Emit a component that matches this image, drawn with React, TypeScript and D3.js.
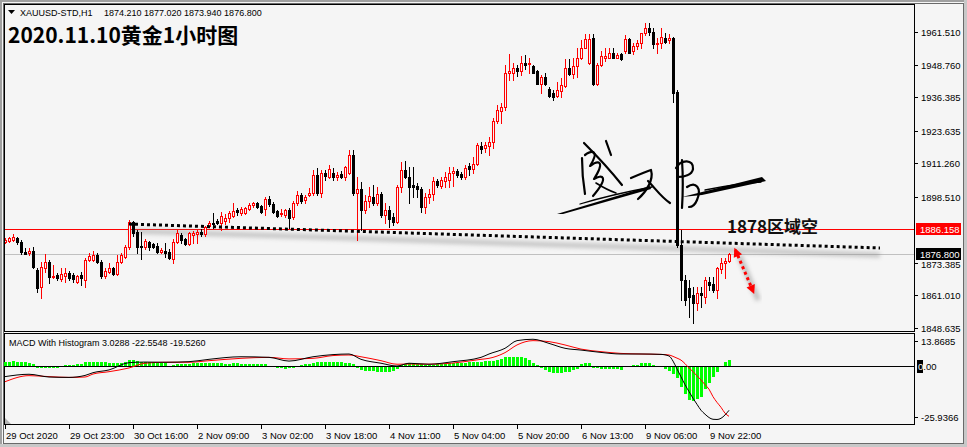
import React from "react";
import * as d3 from "d3";

const W = 967;
const H = 447;

// ---------- DATA ----------
const opens = [
  1881.3, 1881.7, 1882.1, 1882.9, 1881.3, 1877.5, 1877.2, 1877.9, 1870.7, 1864.2,
  1871.5, 1873.7, 1868.0, 1868.8, 1867.3, 1868.4, 1869.6, 1868.8, 1866.1, 1868.8,
  1866.9, 1874.5, 1874.5, 1876.4, 1873.7, 1868.4, 1869.9, 1871.5, 1869.2, 1873.7,
  1875.6, 1879.4, 1888.9, 1885.1, 1879.8, 1879.4, 1881.3, 1880.6, 1879.8, 1877.5,
  1877.9, 1877.5, 1874.9, 1881.3, 1884.0, 1882.5, 1880.6, 1884.0, 1884.4, 1885.1,
  1884.4, 1887.4, 1888.6, 1889.3, 1888.6, 1889.3, 1890.5, 1891.2, 1893.5, 1892.4,
  1892.4, 1893.9, 1895.4, 1896.2, 1895.0, 1893.9, 1897.7, 1895.8, 1893.1, 1892.0,
  1891.6, 1893.5, 1890.8, 1896.2, 1899.2, 1897.3, 1899.2, 1900.0, 1906.8, 1900.0,
  1907.6, 1906.0, 1907.6, 1906.0, 1907.2, 1906.0, 1907.6, 1914.4, 1900.0, 1901.5,
  1893.5, 1896.9, 1898.4, 1896.2, 1899.6, 1891.6, 1893.5, 1890.8, 1888.9, 1902.2,
  1908.7, 1906.0, 1903.0, 1902.6, 1901.5, 1894.6, 1898.4, 1899.6, 1904.5, 1902.6,
  1904.5, 1904.9, 1907.6, 1908.3, 1907.2, 1906.0, 1910.2, 1909.1, 1911.0, 1917.8,
  1917.1, 1917.8, 1919.3, 1927.3, 1931.1, 1932.6, 1945.6, 1945.9, 1947.5, 1946.3,
  1949.7, 1949.0, 1948.2, 1946.3, 1941.7, 1944.0, 1939.5, 1938.0, 1936.8, 1938.7,
  1940.6, 1947.8, 1945.2, 1948.2, 1951.3, 1955.4, 1949.4, 1958.9, 1941.7, 1948.6,
  1951.6, 1951.6, 1953.5, 1951.6, 1952.8, 1953.9, 1958.5, 1953.9, 1955.8, 1957.3,
  1960.8, 1962.7, 1961.5, 1956.6, 1957.0, 1959.2, 1958.1, 1958.9, 1938.3, 1880.2,
  1866.9, 1863.9, 1861.2, 1858.2, 1862.0, 1860.4, 1866.1, 1865.4, 1863.1, 1871.1,
  1873.4, 1874.21,
];
const highs = [
  1882.9, 1883.2, 1884.4, 1883.2, 1882.1, 1879.1, 1879.1, 1879.4, 1871.5, 1873.7,
  1876.8, 1874.5, 1872.6, 1869.6, 1871.5, 1871.5, 1870.3, 1869.6, 1868.8, 1869.9,
  1875.3, 1877.2, 1877.9, 1877.2, 1874.5, 1871.5, 1873.4, 1871.8, 1876.4, 1877.2,
  1880.2, 1889.7, 1889.3, 1885.9, 1885.1, 1882.5, 1881.7, 1881.0, 1881.0, 1879.1,
  1881.0, 1878.7, 1882.5, 1885.9, 1884.8, 1882.9, 1885.1, 1885.5, 1885.9, 1886.3,
  1887.4, 1889.3, 1892.4, 1890.1, 1892.7, 1892.0, 1893.1, 1896.2, 1894.3, 1894.6,
  1894.6, 1896.2, 1896.5, 1896.5, 1895.4, 1898.4, 1898.8, 1896.5, 1893.5, 1893.9,
  1893.9, 1894.3, 1896.9, 1900.7, 1900.0, 1899.2, 1901.9, 1908.7, 1909.5, 1908.7,
  1908.7, 1910.6, 1909.5, 1907.9, 1908.3, 1910.2, 1916.3, 1916.3, 1906.0, 1904.1,
  1899.2, 1902.2, 1903.0, 1902.2, 1900.3, 1896.2, 1895.0, 1892.4, 1903.0, 1911.7,
  1912.1, 1909.8, 1909.8, 1903.8, 1902.2, 1900.0, 1901.5, 1906.0, 1905.3, 1906.0,
  1907.9, 1909.8, 1909.8, 1909.1, 1907.9, 1910.6, 1911.4, 1913.6, 1919.0, 1919.3,
  1919.3, 1921.2, 1928.5, 1933.4, 1934.2, 1948.6, 1952.8, 1949.4, 1948.6, 1952.0,
  1952.4, 1951.6, 1948.6, 1946.7, 1944.8, 1945.9, 1940.2, 1939.1, 1942.1, 1943.7,
  1950.9, 1950.9, 1951.6, 1955.1, 1958.1, 1960.4, 1960.4, 1960.4, 1949.4, 1953.9,
  1955.1, 1955.1, 1955.1, 1953.5, 1953.2, 1960.0, 1958.9, 1957.0, 1958.1, 1961.1,
  1964.6, 1964.9, 1962.7, 1959.2, 1963.0, 1961.1, 1960.4, 1959.6, 1939.1, 1885.9,
  1868.8, 1866.9, 1864.2, 1864.2, 1864.2, 1868.0, 1868.0, 1868.0, 1871.8, 1875.3,
  1875.3, 1877.02,
];
const lows = [
  1881.0, 1881.3, 1881.7, 1880.6, 1876.8, 1876.8, 1876.4, 1871.5, 1862.3, 1860.1,
  1869.9, 1865.8, 1867.7, 1866.9, 1866.5, 1866.1, 1866.9, 1866.1, 1865.8, 1865.0,
  1864.2, 1874.1, 1874.1, 1873.4, 1867.7, 1867.7, 1869.6, 1868.8, 1868.8, 1873.4,
  1875.3, 1878.7, 1883.6, 1877.2, 1874.9, 1878.7, 1878.3, 1879.1, 1877.2, 1877.2,
  1875.6, 1874.9, 1873.4, 1881.0, 1881.0, 1880.2, 1880.2, 1881.0, 1881.0, 1883.6,
  1883.6, 1887.0, 1886.7, 1888.2, 1885.9, 1888.2, 1888.9, 1890.8, 1891.6, 1891.6,
  1892.0, 1893.5, 1894.6, 1894.3, 1892.4, 1891.6, 1895.0, 1892.4, 1890.8, 1891.2,
  1890.8, 1886.7, 1890.1, 1895.4, 1896.2, 1896.2, 1898.8, 1899.2, 1899.2, 1898.4,
  1904.9, 1905.7, 1904.9, 1904.9, 1905.7, 1904.9, 1907.2, 1899.2, 1882.1, 1885.9,
  1892.4, 1894.6, 1895.4, 1895.4, 1890.8, 1888.6, 1887.0, 1887.8, 1888.6, 1900.3,
  1905.7, 1896.2, 1898.4, 1898.4, 1892.7, 1892.4, 1896.2, 1897.3, 1902.2, 1901.9,
  1902.2, 1902.2, 1902.6, 1906.0, 1905.3, 1905.3, 1906.8, 1907.6, 1910.6, 1915.2,
  1915.5, 1914.4, 1917.1, 1926.6, 1926.6, 1931.5, 1942.9, 1942.9, 1944.4, 1944.8,
  1947.1, 1945.9, 1945.6, 1941.7, 1938.0, 1941.0, 1936.4, 1935.3, 1936.4, 1936.4,
  1940.2, 1944.8, 1943.7, 1944.0, 1950.9, 1955.1, 1949.0, 1941.0, 1941.0, 1948.2,
  1950.1, 1951.3, 1951.6, 1951.3, 1950.5, 1953.5, 1953.2, 1952.8, 1954.7, 1955.4,
  1960.0, 1960.0, 1955.4, 1953.2, 1955.4, 1957.0, 1957.0, 1934.5, 1879.4, 1859.3,
  1857.4, 1852.8, 1850.6, 1855.5, 1856.6, 1858.2, 1863.1, 1862.3, 1860.1, 1869.6,
  1867.7, 1873.94,
];
const closes = [
  1882.1, 1882.9, 1883.2, 1881.3, 1877.5, 1876.8, 1877.9, 1871.8, 1863.9, 1871.8,
  1873.7, 1868.0, 1868.4, 1867.7, 1869.2, 1869.6, 1867.7, 1867.3, 1868.4, 1867.7,
  1874.5, 1876.0, 1876.4, 1873.7, 1868.4, 1870.3, 1871.5, 1869.2, 1873.7, 1876.4,
  1879.4, 1888.9, 1884.8, 1879.4, 1879.4, 1881.7, 1879.4, 1879.4, 1877.5, 1878.3,
  1877.2, 1875.3, 1881.3, 1884.8, 1882.1, 1880.6, 1884.8, 1884.8, 1885.1, 1884.4,
  1887.0, 1888.6, 1888.2, 1888.6, 1891.2, 1890.5, 1892.4, 1893.1, 1892.7, 1893.9,
  1894.3, 1895.4, 1896.2, 1894.6, 1892.7, 1897.7, 1895.8, 1892.7, 1891.2, 1892.4,
  1893.5, 1890.5, 1896.2, 1899.2, 1896.9, 1898.4, 1900.0, 1906.8, 1900.0, 1907.6,
  1906.4, 1909.1, 1906.0, 1906.8, 1906.0, 1909.8, 1914.4, 1900.0, 1901.5, 1893.5,
  1896.9, 1898.8, 1896.2, 1899.6, 1891.6, 1893.5, 1890.1, 1888.9, 1902.2, 1908.7,
  1906.0, 1902.2, 1902.2, 1901.5, 1894.6, 1898.4, 1899.6, 1904.5, 1903.0, 1904.9,
  1906.0, 1907.6, 1908.3, 1906.8, 1906.0, 1909.5, 1909.1, 1911.0, 1918.2, 1916.7,
  1918.2, 1919.3, 1927.3, 1931.5, 1932.6, 1945.6, 1946.3, 1947.5, 1946.3, 1949.7,
  1948.6, 1949.4, 1945.6, 1941.7, 1944.0, 1941.7, 1936.8, 1936.4, 1939.1, 1941.0,
  1947.5, 1945.2, 1948.2, 1951.3, 1955.4, 1958.5, 1958.5, 1941.7, 1948.6, 1952.0,
  1952.0, 1953.5, 1951.6, 1952.4, 1950.9, 1958.5, 1953.5, 1955.8, 1957.3, 1960.8,
  1962.7, 1961.5, 1956.6, 1957.0, 1959.6, 1957.7, 1958.9, 1938.0, 1880.2, 1866.9,
  1859.3, 1860.4, 1858.2, 1862.0, 1861.2, 1866.9, 1865.0, 1863.1, 1871.5, 1873.4,
  1874.2, 1876.8,
];

const histogram = [
  2.2, 2.2, 2.3, 2.2, 2.0, 1.8, 1.5, 0.8,
  -0.8, -0.9, -0.9, -1.0, -1.0, -0.9, -0.6,
  0.6, 0.7, 0.7, 0.8, 1.0,
  1.8, 2.2, 2.2, 2.0, 1.8, 1.8, 1.7,
  1.4, 1.3, 1.4, 1.8,
  3.2, 3.0, 2.6, 2.2,
  2.0, 1.8, 1.8, 1.7, 1.6, 1.4,
  -0.3, 0.5,
  0.9, 1.0, 1.1, 1.2, 1.3, 1.3, 1.3, 1.4, 1.4, 1.3, 1.3, 1.3, 1.2, 1.2, 1.3, 1.3, 1.2, 1.2, 1.1, 1.1, 1.0, 0.9, 0.8,
  0.2,
  -0.6, -1.0, -1.2, -1.3, -1.2, -0.9, -0.5,
  0.4, 0.8, 1.0, 1.4, 1.8, 2.0, 2.2, 2.2, 2.2, 2.0, 1.8, 1.6, 1.4,
  0.8,
  -0.8, -1.8, -2.3, -2.5, -2.7, -2.8, -3.0, -3.2, -3.2, -2.6, -1.3,
  0.4, 1.0, 1.3, 1.4, 1.2, 1.0, 0.6, 0.4,
  0.6, 0.8, 1.0, 1.2, 1.3, 1.4, 1.5, 1.5, 1.6, 1.8, 2.0, 2.2,
  2.2, 2.3, 2.3, 2.5, 3.0, 3.5,
  4.5, 4.7, 4.7, 4.7, 4.5, 4.2,
  3.0, 1.6, 0.3,
  -1.0, -1.8, -2.8, -3.5, -3.8, -3.8, -3.3, -2.8, -2.2, -1.5,
  0.8, 1.3, 1.3,
  -0.8, -1.0, -1.3, -1.4, -1.4, -1.3, -1.3, -1.9,
  0.1, 0.2, 0.3, 0.5,
  1.5, 1.6, 1.5,
  0.4, 0.0, -0.3,
  -1.5, -2.3,
  -4.0, -6.3, -10.5, -14.0, -17.3, -17.6, -17.0, -15.6, -11.9, -8.8, -5.4, -2.9,
  -0.6, 2.0, 3.03,
];

const macdBars = [0, 6, 11, 16, 20, 22, 26, 31, 35, 40, 46, 51, 59, 66, 71, 77, 82, 86, 89, 94, 98, 101, 106, 112, 119, 121, 125, 128, 132, 136, 140, 144, 149, 154, 159, 164, 166, 167, 168, 169, 170, 171, 172, 173, 174, 175, 176, 177, 178, 179, 180, 181];
const macdValues = [-5.4, -4.2, -5.6, -5.8, -4.8, -3.4, -2.0, 1.7, 2.0, 1.9, 2.2, 3.4, 4.7, 4.4, 2.5, 4.7, 5.8, 6.1, 3.4, 1.4, 0.0, 1.4, 0.9, 2.2, 4.4, 6.1, 9.0, 12.9, 13.6, 11.5, 9.0, 8.1, 6.9, 6.1, 6.1, 5.9, 5.1, 2.5, -1.5, -5.5, -9.5, -13.0, -16.4, -19.5, -22.5, -24.5, -26.2, -27.1, -27.2, -26.6, -24.9, -22.55];
const signalValues = [-8.0, -4.9, -5.4, -5.8, -5.6, -4.1, -2.9, -1.0, 1.4, 1.9, 1.9, 2.7, 3.9, 4.4, 3.6, 3.9, 5.3, 5.6, 4.7, 2.7, 0.9, 1.0, 0.9, 1.5, 3.4, 3.9, 6.8, 10.7, 12.9, 12.4, 10.7, 8.6, 7.3, 6.4, 6.1, 5.9, 5.6, 4.9, 4.0, 3.0, 1.2, -1.0, -2.9, -5.0, -7.1, -9.5, -11.8, -15.6, -18.5, -21.0, -24.0, -25.58];

const timeLabelBars = [0, 16, 32, 48, 64, 80, 96, 112, 128, 144, 160, 176];
const timeLabels = ["29 Oct 2020", "29 Oct 23:00", "30 Oct 16:00", "2 Nov 09:00", "3 Nov 02:00", "3 Nov 18:00", "4 Nov 11:00", "5 Nov 04:00", "5 Nov 20:00", "6 Nov 13:00", "9 Nov 06:00", "9 Nov 22:00"];

const priceTicks = [1961.51, 1948.76, 1936.385, 1923.635, 1911.26, 1898.51, 1873.385, 1861.01, 1848.635];
const levelPrice = 1886.158;
const bidPrice = 1876.8;
const macdAxisTop = 13.8685;
const macdAxisBottom = -25.9366;

const trendBars = [31, 218.75];
const trendPrices = [1888.2, 1879.1];
const arrowBars = [182.6, 187.3];
const arrowPrices = [1878.4, 1861.6];
const noteBar = 180.5;
const notePrice = 1884.9;
const noteText = "1878区域空";

const headerSymbol = "XAUUSD-STD,H1";
const headerValues = "1874.210 1877.020 1873.940 1876.800";
const titleText = "2020.11.10黄金1小时图";
const macdTitle = "MACD With Histogram 3.0288 -22.5548 -19.5260";

// ---------- LAYOUT ----------
const PL = 4, PR = 914, PT = 4, PB = 331;
const MT = 333, MB = 424;
const BG = "#f5f5f5";
const FONT = "'Liberation Sans', Arial, sans-serif";

const x = d3.scaleLinear().domain([-0.25, 227.25]).range([PL, PR]);
const y = d3.scaleLinear().domain([1848.635, 1961.51]).range([328, 31.5]);
const my = d3.scaleLinear().domain([-25.9366, 0]).range([417, 366]);

const fmt3 = d3.format(".3f");

function Candles() {
  const items = opens.map((o, i) => {
    const c = closes[i];
    const hi = highs[i];
    const lo = lows[i];
    const cx = Math.round(x(i));
    const bull = c > o;
    const color = bull ? "#ff0000" : "#000000";
    const top = Math.round(y(Math.max(o, c)));
    const bot = Math.round(y(Math.min(o, c)));
    const yh = Math.round(y(hi));
    const yl = Math.round(y(lo));
    const body =
      bot - top < 2 ? (
        <rect x={cx - 1} y={top} width={3} height={Math.max(1, bot - top + 1)} fill={color} />
      ) : bull ? (
        <rect x={cx - 0.5} y={top + 0.5} width={2} height={bot - top} fill={BG} stroke={color} strokeWidth={1} />
      ) : (
        <rect x={cx - 1} y={top} width={3} height={bot - top + 1} fill={color} />
      );
    return (
      <g key={i}>
        <line x1={cx + 0.5} x2={cx + 0.5} y1={yh} y2={yl + 1} stroke={color} strokeWidth={1} />
        {body}
      </g>
    );
  });
  return <g shapeRendering="crispEdges">{items}</g>;
}

function Signature() {
  const s = { fill: "none", stroke: "#000", strokeWidth: 2.2, strokeLinecap: "round" as const, strokeLinejoin: "round" as const };
  return (
    <g>
      {/* left glyph */}
      <path d="M584 143 C596 155 610 170 622 185" {...s} />
      <path d="M606 141 L611 155" {...s} />
      <path d="M582 158 C582 170 583 182 585 194" {...s} />
      <path d="M585 155 C592 150 600 150 590 166 C598 160 606 160 594 179 C602 174 610 176 593 196" {...s} />
      <path d="M596 183 C604 188 610 191 616 193" {...s} strokeWidth={1.6} />
      {/* lower-left sweep */}
      <path d="M557 214 L650 186 L651 189 L563 214 Z" fill="#000" />
      <path d="M580 204 C600 198 625 192 652 187" {...s} strokeWidth={1.3} />
      {/* middle glyph */}
      <path d="M631 178 C638 175 645 172 651 170 C654 180 646 192 638 199" {...s} />
      <path d="M648 181 C655 188 661 197 670 203" {...s} />
      {/* right glyph */}
      <path d="M676 168 C681 159 694 159 693 169 C692 175 684 177 677 177" {...s} />
      <path d="M682 160 C683 175 683 192 682 208" {...s} />
      <path d="M687 187 C696 181 702 188 697 200 C695 205 692 207 689 207" {...s} />
      {/* right sweep */}
      <path d="M682 197 L762 177 L766 181 L702 195 Z" fill="#000" />
      <path d="M705 190 C725 186 745 183 761 182" {...s} strokeWidth={1.3} />
    </g>
  );
}

export default function App() {
  const lineMacd = d3
    .line<number>()
    .x((_, k) => x(macdBars[k]))
    .y((v) => my(v))
    .curve(d3.curveMonotoneX);

  const ax1 = x(arrowBars[0]);
  const ay1 = y(arrowPrices[0]);
  const ax2 = x(arrowBars[1]);
  const ay2 = y(arrowPrices[1]);
  const ang = Math.atan2(ay2 - ay1, ax2 - ax1);
  const head = (hx: number, hy: number, a: number) => {
    const L = 9, Wd = 4.5;
    const bx = hx - Math.cos(a) * L, by = hy - Math.sin(a) * L;
    const px = -Math.sin(a) * Wd, py = Math.cos(a) * Wd;
    return `M${hx},${hy} L${bx + px},${by + py} L${bx - px},${by - py} Z`;
  };

  const tx1 = x(trendBars[0]), ty1 = y(trendPrices[0]);
  const tx2 = x(trendBars[1]), ty2 = y(trendPrices[1]);

  const labelBox = (price: number, fill: string, key: string) => {
    const yy = Math.round(y(price));
    return (
      <g key={key}>
        <rect x={916} y={yy - 6} width={45} height={12} fill={fill} />
        <text x={920} y={yy + 4} fontSize={9.5} fill="#fff" fontFamily={FONT}>
          {fmt3(price)}
        </text>
      </g>
    );
  };

  return (
    <svg width={W} height={H} style={{ position: "absolute", left: 0, top: 0 }} xmlns="http://www.w3.org/2000/svg">
      <defs>
        <filter id="blur" x="-20%" y="-200%" width="140%" height="500%">
          <feGaussianBlur stdDeviation="2" />
        </filter>
      </defs>
      {/* window */}
      <rect x={0} y={0} width={W} height={H} fill={BG} />
      <rect x={0} y={0} width={W} height={2} fill="#a0a0a0" />
      <rect x={0} y={0} width={2} height={H} fill="#a0a0a0" />
      <rect x={W - 3} y={0} width={3} height={H} fill="#c8c8c8" />
      <rect x={0} y={H - 3} width={W} height={3} fill="#c8c8c8" />
      <rect x={3.5} y={3.5} width={960} height={440} fill="none" stroke="#6a6a6a" />

      {/* header */}
      <path d="M8 10 L15 10 L11.5 14 Z" fill="#000" />
      <text y={16} fontSize={9} fontFamily={FONT} fill="#000">
        <tspan x={20}>{headerSymbol}</tspan>
        <tspan x={104}>{headerValues}</tspan>
      </text>
      <text x={8} y={42.5} fontSize={21} fontWeight="bold" fontFamily="'Noto Sans CJK SC', sans-serif" fill="#000">
        {titleText}
      </text>

      {/* level lines */}
      <line x1={PL} x2={PR} y1={Math.round(y(bidPrice)) + 0.5} y2={Math.round(y(bidPrice)) + 0.5} stroke="#c0c0c0" />
      <line x1={PL} x2={PR} y1={Math.round(y(levelPrice)) + 0.5} y2={Math.round(y(levelPrice)) + 0.5} stroke="#ff0000" />

      {/* trendline shadow + dotted */}
      <line x1={tx1} y1={ty1 + 7} x2={tx2} y2={ty2 + 7} stroke="#8a8a8a" strokeWidth={5} opacity={0.45} filter="url(#blur)" />
      <Candles />
      <line x1={tx1} y1={ty1} x2={tx2} y2={ty2} stroke="#000" strokeWidth={3} strokeDasharray="3 3" />

      {/* signature */}
      <Signature />

      {/* note text */}
      <text x={x(noteBar)} y={y(notePrice)} fontSize={17} fontWeight="bold" fontFamily="'Noto Sans CJK SC', sans-serif" fill="#111">
        {noteText}
      </text>

      {/* red dotted arrow */}
      <line x1={ax1 + 4} y1={ay1 + 6} x2={ax2 + 4} y2={ay2 + 6} stroke="#777" strokeWidth={5} opacity={0.45} filter="url(#blur)" />
      <line x1={ax1} y1={ay1} x2={ax2 - Math.cos(ang) * 6} y2={ay2 - Math.sin(ang) * 6} stroke="#ff0000" strokeWidth={3} strokeDasharray="3 3" />
      <path d={head(ax2, ay2, ang)} fill="#ff0000" />
      <path d={head(ax1 - 1, ay1 - 2, ang + Math.PI)} fill="#ff0000" />

      {/* frames */}
      <g shapeRendering="crispEdges">
        <rect x={PL + 0.5} y={PT + 0.5} width={PR - PL} height={PB - PT} fill="none" stroke="#000" />
        <rect x={PL + 0.5} y={MT + 0.5} width={PR - PL} height={MB - MT} fill="none" stroke="#000" />
      </g>

      {/* price axis */}
      <g shapeRendering="crispEdges">
        {priceTicks.map((p) => (
          <line key={"t" + p} x1={PR} x2={PR + 4} y1={Math.round(y(p)) + 0.5} y2={Math.round(y(p)) + 0.5} stroke="#000" />
        ))}
      </g>
      {priceTicks.map((p) => (
        <text key={"l" + p} x={921} y={Math.round(y(p)) + (p === 1873.385 ? 5 : 4)} fontSize={9.5} fontFamily={FONT} fill="#000">
          {fmt3(p)}
        </text>
      ))}
      {labelBox(levelPrice, "#ff0000", "lvl")}
      {labelBox(bidPrice, "#000000", "bid")}

      {/* MACD panel */}
      <g shapeRendering="crispEdges">
        {histogram.map((v, i) => {
          const cx = Math.round(x(i));
          const y0 = my(0);
          const yv = my(v);
          return <rect key={i} x={cx - 1} y={Math.min(y0, yv)} width={3} height={Math.max(0.5, Math.abs(yv - y0))} fill="#00ff00" />;
        })}
        <line x1={PL} x2={PR} y1={Math.round(my(0)) + 0.5} y2={Math.round(my(0)) + 0.5} stroke="#000" />
      </g>
      <path d={lineMacd(signalValues) || ""} fill="none" stroke="#ff0000" strokeWidth={1} />
      <path d={lineMacd(macdValues) || ""} fill="none" stroke="#000" strokeWidth={1} />
      <text x={9} y={346} fontSize={9} fontFamily={FONT} fill="#000">{macdTitle}</text>
      <path d="M5 418 L5 424 L11 424 Z" fill="#b4b4b4" />

      <line x1={PR} x2={PR + 4} y1={341.5} y2={341.5} stroke="#000" />
      <text x={921} y={345} fontSize={9.5} fontFamily={FONT} fill="#000">{String(macdAxisTop)}</text>
      <rect x={917} y={Math.round(my(0)) - 6} width={6} height={13} fill="#000" />
      <text x={918} y={Math.round(my(0)) + 4} fontSize={9.5} fontFamily={FONT} fill="#000">
        <tspan fill="#fff">0</tspan>.00
      </text>
      <line x1={PR} x2={PR + 4} y1={Math.round(my(macdAxisBottom)) + 0.5} y2={Math.round(my(macdAxisBottom)) + 0.5} stroke="#000" />
      <text x={921} y={Math.round(my(macdAxisBottom)) + 4} fontSize={9.5} fontFamily={FONT} fill="#000">
        {String(macdAxisBottom)}
      </text>

      {/* time axis */}
      {timeLabelBars.map((b, k) => {
        const cx = Math.round(x(b));
        return (
          <g key={"tl" + b}>
            <line x1={cx + 0.5} x2={cx + 0.5} y1={MB + 1} y2={MB + 5} stroke="#000" shapeRendering="crispEdges" />
            <text x={cx + 1} y={439} fontSize={9.5} fontFamily={FONT} fill="#000">
              {timeLabels[k]}
            </text>
          </g>
        );
      })}
    </svg>
  );
}
